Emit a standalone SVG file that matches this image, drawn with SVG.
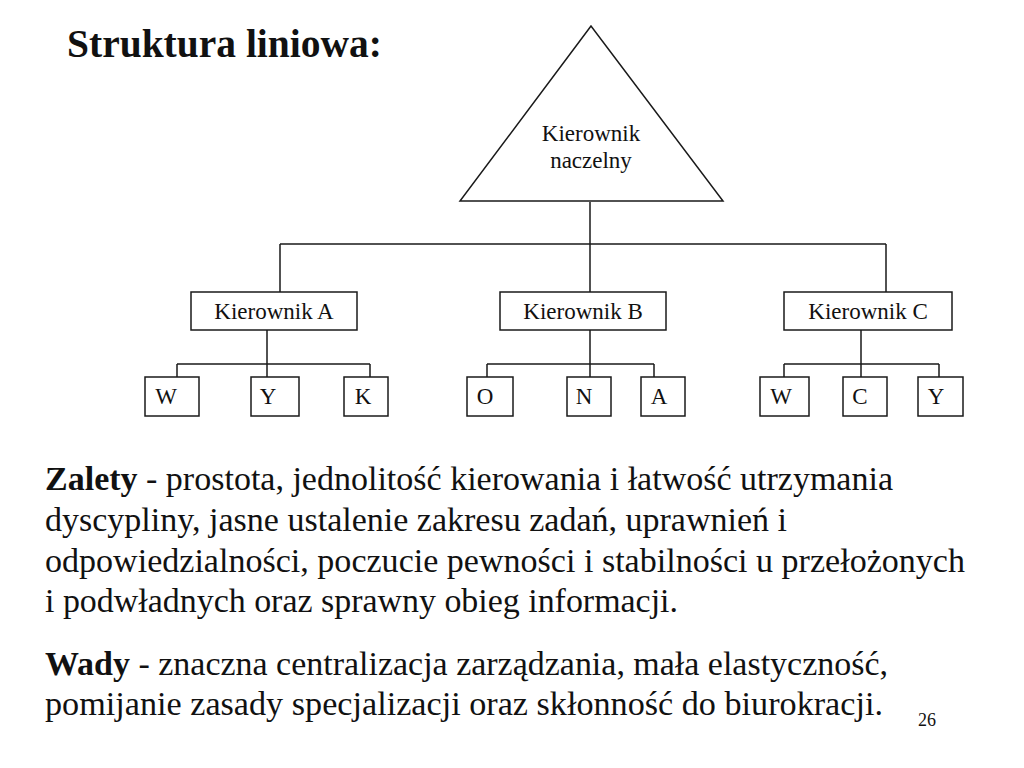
<svg xmlns="http://www.w3.org/2000/svg" width="1024" height="768" viewBox="0 0 1024 768">
<style>
  .ln { stroke: #1a1a1a; stroke-width: 1.5; fill: none; }
  .bx { stroke: #1a1a1a; stroke-width: 1.5; fill: #ffffff; }
  .t { font-family: "Liberation Serif", "Times New Roman", serif; fill: #111; }
  .lbl { font-size: 23px; text-anchor: middle; }
  .body { font-size: 34px; }
  .b { font-weight: bold; }
</style>
<rect width="1024" height="768" fill="#ffffff"/>
<text class="t b" x="67" y="57" font-size="40" textLength="315" lengthAdjust="spacingAndGlyphs">Struktura liniowa:</text>

<g id="connectors">
  <path class="ln" d="M590,202 V292 M280,244 H886 M280,244 V292 M886,244 V292"/>
  <path class="ln" d="M267,330 V364 M177,364 H370 M177,364 V377 M267,364 V377 M370,364 V377"/>
  <path class="ln" d="M590,330 V377 M487,364 H654 M487,364 V377 M654,364 V377"/>
  <path class="ln" d="M861,330 V364 M784,364 H939 M784,364 V377 M861,364 V377 M939,364 V377"/>
</g>

<g id="kierownik-naczelny">
  <polygon class="bx" points="591,26 460,201 723,201"/>
  <text class="t lbl" x="591" y="141" font-size="22">Kierownik</text>
  <text class="t lbl" x="591" y="168" font-size="22">naczelny</text>
</g>

<g id="kierownik-a">
  <rect class="bx" x="191" y="292" width="166" height="38"/>
  <text class="t lbl" x="274" y="319">Kierownik A</text>
</g>
<g id="kierownik-b">
  <rect class="bx" x="500" y="292" width="166" height="38"/>
  <text class="t lbl" x="583" y="319">Kierownik B</text>
</g>
<g id="kierownik-c">
  <rect class="bx" x="784" y="292" width="168" height="38"/>
  <text class="t lbl" x="868" y="319">Kierownik C</text>
</g>

<g id="a-w"><rect class="bx" x="145" y="377" width="54" height="39"/><text class="t lbl" x="166" y="404">W</text></g>
<g id="a-y"><rect class="bx" x="251" y="377" width="48" height="39"/><text class="t lbl" x="268" y="404">Y</text></g>
<g id="a-k"><rect class="bx" x="344" y="377" width="44" height="39"/><text class="t lbl" x="363" y="404">K</text></g>

<g id="b-o"><rect class="bx" x="467" y="377" width="46" height="39"/><text class="t lbl" x="485" y="404">O</text></g>
<g id="b-n"><rect class="bx" x="567" y="377" width="44" height="39"/><text class="t lbl" x="584" y="404">N</text></g>
<g id="b-a"><rect class="bx" x="641" y="377" width="44" height="39"/><text class="t lbl" x="659" y="404">A</text></g>

<g id="c-w"><rect class="bx" x="760" y="377" width="49" height="39"/><text class="t lbl" x="781" y="404">W</text></g>
<g id="c-c"><rect class="bx" x="843" y="377" width="44" height="39"/><text class="t lbl" x="860" y="404">C</text></g>
<g id="c-y"><rect class="bx" x="918" y="377" width="45" height="39"/><text class="t lbl" x="936" y="404">Y</text></g>

<g id="opis">
  <text class="t body" x="45" y="490" textLength="848" lengthAdjust="spacingAndGlyphs"><tspan class="b">Zalety</tspan> - prostota, jednolitość kierowania i łatwość utrzymania</text>
  <text class="t body" x="45" y="531" textLength="742" lengthAdjust="spacingAndGlyphs">dyscypliny, jasne ustalenie zakresu zadań, uprawnień i</text>
  <text class="t body" x="45" y="572" textLength="920" lengthAdjust="spacingAndGlyphs">odpowiedzialności, poczucie pewności i stabilności u przełożonych</text>
  <text class="t body" x="45" y="612" textLength="633" lengthAdjust="spacingAndGlyphs">i podwładnych oraz sprawny obieg informacji.</text>
  <text class="t body" x="45" y="675" textLength="843" lengthAdjust="spacingAndGlyphs"><tspan class="b">Wady</tspan> - znaczna centralizacja zarządzania, mała elastyczność,</text>
  <text class="t body" x="45" y="715" textLength="838" lengthAdjust="spacingAndGlyphs">pomijanie zasady specjalizacji oraz skłonność do biurokracji.</text>
  <text class="t" x="918" y="726" font-size="18">26</text>
</g>
</svg>
